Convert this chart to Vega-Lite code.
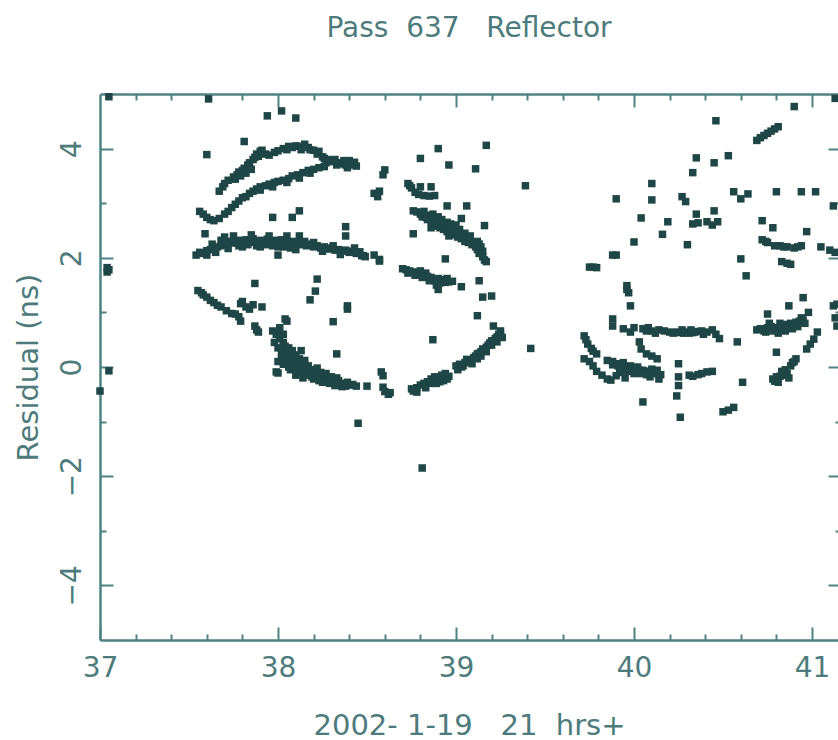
{
  "$schema": "https://vega.github.io/schema/vega-lite/v6.json",
  "autosize": {"type": "none"},
  "padding": {"left": 100, "top": 94, "right": 0, "bottom": 100},
  "width": 738,
  "height": 546,
  "background": "white",
  "title": {
    "text": "Pass\u00a0\u00a0637\u00a0\u00a0\u00a0Reflector",
    "font": "DejaVu Sans",
    "fontSize": 28,
    "fontWeight": "normal",
    "color": "#4d7b7b",
    "anchor": "middle",
    "baseline": "alphabetic",
    "offset": 28
  },
  "config": {
    "view": {"stroke": null},
    "axis": {
      "grid": false,
      "domainColor": "#4f8383",
      "domainWidth": 2.5,
      "tickColor": "#4f8383",
      "tickWidth": 2,
      "labelFont": "DejaVu Sans",
      "labelFontSize": 28,
      "labelColor": "#4d7b7b",
      "labelFlush": false,
      "labelOverlap": false,
      "titleFont": "DejaVu Sans",
      "titleFontSize": 29,
      "titleFontWeight": "normal",
      "titleColor": "#4d7b7b"
    }
  },
  "data": {"values": [
    {"t":37.05,"r":4.95},{"t":37.04,"r":1.82},{"t":37.04,"r":1.74},{"t":37.05,"r":1.78},{"t":37.05,"r":-0.07},{"t":37.0,"r":-0.44},{"t":37.61,"r":4.91},{"t":41.13,"r":4.92},
    {"t":37.94,"r":4.6},{"t":38.02,"r":4.69},{"t":38.1,"r":4.56},{"t":37.6,"r":3.89},{"t":37.81,"r":4.13},
    {"t":37.67,"r":3.22},{"t":37.69,"r":3.3},{"t":37.7,"r":3.36},{"t":37.72,"r":3.42},{"t":37.75,"r":3.48},{"t":37.77,"r":3.52},{"t":37.78,"r":3.57},{"t":37.8,"r":3.6},{"t":37.81,"r":3.64},{"t":37.83,"r":3.7},{"t":37.84,"r":3.74},{"t":37.86,"r":3.8},{"t":37.87,"r":3.84},{"t":37.88,"r":3.9},{"t":37.9,"r":3.95},{"t":37.91,"r":3.97},{"t":37.93,"r":3.9},{"t":37.95,"r":3.88},{"t":37.98,"r":3.93},{"t":38.0,"r":3.96},{"t":38.03,"r":4.0},{"t":38.06,"r":4.04},{"t":38.08,"r":4.02},{"t":38.1,"r":4.05},{"t":38.12,"r":4.04},{"t":38.15,"r":4.08},{"t":38.17,"r":4.02},{"t":38.18,"r":3.98},{"t":38.2,"r":3.97},{"t":38.23,"r":3.95},{"t":38.25,"r":3.85},{"t":38.26,"r":3.82},{"t":38.28,"r":3.8},{"t":38.29,"r":3.77},{"t":38.31,"r":3.76},{"t":38.32,"r":3.8},{"t":38.34,"r":3.74},{"t":38.35,"r":3.72},{"t":38.37,"r":3.78},{"t":38.38,"r":3.7},{"t":38.39,"r":3.65},{"t":38.41,"r":3.74},{"t":38.42,"r":3.7},{"t":38.44,"r":3.68},{"t":38.43,"r":3.75},{"t":37.82,"r":3.55},{"t":37.85,"r":3.62},{"t":37.79,"r":3.5},
    {"t":38.05,"r":3.98},{"t":38.13,"r":3.98},{"t":38.22,"r":3.9},{"t":38.27,"r":3.74},{"t":38.33,"r":3.7},{"t":38.4,"r":3.78},{"t":37.76,"r":3.44},{"t":37.89,"r":3.86},
    {"t":37.56,"r":2.85},{"t":37.58,"r":2.8},{"t":37.6,"r":2.74},{"t":37.62,"r":2.7},{"t":37.64,"r":2.68},{"t":37.67,"r":2.72},{"t":37.7,"r":2.8},{"t":37.72,"r":2.85},{"t":37.74,"r":2.92},{"t":37.76,"r":2.98},{"t":37.78,"r":3.04},{"t":37.8,"r":3.1},{"t":37.82,"r":3.12},{"t":37.84,"r":3.18},{"t":37.86,"r":3.22},{"t":37.88,"r":3.26},{"t":37.9,"r":3.3},{"t":37.93,"r":3.32},{"t":37.95,"r":3.35},{"t":37.98,"r":3.38},{"t":38.0,"r":3.4},{"t":38.03,"r":3.42},{"t":38.06,"r":3.45},{"t":38.08,"r":3.5},{"t":38.11,"r":3.52},{"t":38.14,"r":3.56},{"t":38.17,"r":3.6},{"t":38.2,"r":3.62},{"t":38.23,"r":3.65},{"t":38.26,"r":3.67},
    {"t":37.9,"r":3.24},{"t":37.97,"r":3.3},{"t":38.05,"r":3.38},{"t":38.12,"r":3.46},{"t":38.18,"r":3.55},
    {"t":37.54,"r":2.05},{"t":37.56,"r":2.1},{"t":37.58,"r":2.08},{"t":37.6,"r":2.13},{"t":37.62,"r":2.15},{"t":37.64,"r":2.18},{"t":37.66,"r":2.2},{"t":37.68,"r":2.22},{"t":37.7,"r":2.25},{"t":37.72,"r":2.27},{"t":37.74,"r":2.3},{"t":37.76,"r":2.27},{"t":37.78,"r":2.32},{"t":37.8,"r":2.3},{"t":37.82,"r":2.33},{"t":37.84,"r":2.28},{"t":37.86,"r":2.35},{"t":37.88,"r":2.3},{"t":37.9,"r":2.32},{"t":37.92,"r":2.27},{"t":37.94,"r":2.34},{"t":37.96,"r":2.3},{"t":37.98,"r":2.32},{"t":38.0,"r":2.28},{"t":38.02,"r":2.33},{"t":38.04,"r":2.3},{"t":38.06,"r":2.26},{"t":38.08,"r":2.3},{"t":38.1,"r":2.25},{"t":38.12,"r":2.28},{"t":38.14,"r":2.24},{"t":38.16,"r":2.22},{"t":38.18,"r":2.25},{"t":38.2,"r":2.2},{"t":38.22,"r":2.22},{"t":38.24,"r":2.18},{"t":38.26,"r":2.2},{"t":38.28,"r":2.16},{"t":38.3,"r":2.18},{"t":38.32,"r":2.14},{"t":38.34,"r":2.15},{"t":38.36,"r":2.12},{"t":38.38,"r":2.14},{"t":38.4,"r":2.1},{"t":38.42,"r":2.12},{"t":38.44,"r":2.08},{"t":38.47,"r":2.04},{"t":38.49,"r":2.02},
    {"t":37.7,"r":2.38},{"t":37.75,"r":2.4},{"t":37.85,"r":2.42},{"t":37.95,"r":2.4},{"t":38.05,"r":2.4},{"t":38.12,"r":2.4},{"t":37.8,"r":2.2},{"t":37.9,"r":2.2},{"t":38.0,"r":2.2},{"t":38.1,"r":2.15},{"t":37.59,"r":2.44},{"t":38.0,"r":2.05},
    {"t":37.6,"r":2.05},{"t":37.65,"r":2.1},{"t":37.72,"r":2.17},{"t":37.78,"r":2.22},{"t":37.83,"r":2.24},{"t":37.88,"r":2.22},{"t":37.93,"r":2.24},{"t":37.97,"r":2.22},{"t":38.03,"r":2.2},{"t":38.07,"r":2.18},{"t":38.15,"r":2.3},{"t":38.2,"r":2.28},{"t":38.25,"r":2.12},{"t":38.31,"r":2.22},{"t":38.35,"r":2.06},{"t":38.43,"r":2.18},{"t":37.68,"r":2.32},{"t":37.63,"r":2.25},
    {"t":37.97,"r":2.74},{"t":38.08,"r":2.74},{"t":38.12,"r":2.86},{"t":38.38,"r":2.57},{"t":38.38,"r":2.4},{"t":38.57,"r":1.97},{"t":38.54,"r":2.05},
    {"t":37.55,"r":1.4},{"t":37.57,"r":1.36},{"t":37.58,"r":1.32},{"t":37.6,"r":1.28},{"t":37.62,"r":1.22},{"t":37.64,"r":1.18},{"t":37.66,"r":1.13},{"t":37.68,"r":1.1},{"t":37.71,"r":1.03},{"t":37.76,"r":0.97},{"t":37.79,"r":0.84},{"t":37.79,"r":1.16},{"t":37.84,"r":1.06},{"t":37.82,"r":1.1},{"t":37.91,"r":1.1},{"t":37.78,"r":0.92},{"t":37.87,"r":0.75},{"t":37.89,"r":0.64},{"t":37.88,"r":0.68},{"t":37.87,"r":1.53},{"t":37.74,"r":0.98},{"t":37.8,"r":1.2},{"t":37.86,"r":1.14},
    {"t":37.97,"r":0.66},{"t":37.99,"r":0.6},{"t":38.01,"r":0.52},{"t":38.03,"r":0.45},{"t":38.04,"r":0.38},{"t":38.05,"r":0.3},{"t":38.06,"r":0.2},{"t":38.07,"r":0.12},{"t":38.04,"r":0.15},{"t":38.02,"r":0.25},{"t":38.0,"r":0.1},{"t":38.03,"r":0.05},{"t":38.06,"r":0.0},{"t":38.08,"r":0.05},{"t":38.1,"r":0.1},{"t":38.09,"r":-0.02},{"t":38.12,"r":-0.04},{"t":38.12,"r":0.15},{"t":38.14,"r":0.0},{"t":38.15,"r":0.05},{"t":38.16,"r":-0.08},{"t":38.18,"r":-0.05},{"t":38.18,"r":-0.12},{"t":38.2,"r":-0.1},{"t":38.22,"r":-0.13},{"t":38.22,"r":-0.02},{"t":38.24,"r":-0.18},{"t":38.26,"r":-0.15},{"t":38.27,"r":-0.24},{"t":38.28,"r":-0.2},{"t":38.3,"r":-0.27},{"t":38.31,"r":-0.22},{"t":38.33,"r":-0.3},{"t":38.34,"r":-0.25},{"t":38.35,"r":-0.32},{"t":38.37,"r":-0.3},{"t":38.38,"r":-0.35},{"t":38.4,"r":-0.33},{"t":38.44,"r":-0.35},{"t":38.5,"r":-0.35},{"t":38.1,"r":-0.15},{"t":38.14,"r":-0.2},{"t":38.2,"r":-0.22},{"t":37.99,"r":-0.09},{"t":38.0,"r":-0.11},{"t":38.05,"r":0.84},{"t":38.04,"r":0.88},{"t":38.22,"r":1.61},{"t":38.21,"r":1.39},{"t":38.18,"r":1.23},{"t":38.39,"r":1.12},{"t":38.31,"r":0.83},{"t":38.33,"r":0.24},{"t":38.39,"r":1.06},{"t":38.45,"r":-1.03},{"t":38.08,"r":0.3},{"t":38.1,"r":0.22},{"t":38.13,"r":0.3},
    {"t":37.98,"r":0.45},{"t":38.0,"r":0.35},{"t":38.02,"r":0.18},{"t":38.03,"r":0.4},{"t":38.05,"r":0.12},{"t":38.06,"r":0.35},{"t":38.07,"r":-0.05},{"t":38.09,"r":0.18},{"t":38.11,"r":0.05},{"t":38.13,"r":-0.1},{"t":38.15,"r":0.12},{"t":38.16,"r":-0.15},{"t":38.17,"r":0.02},{"t":38.19,"r":-0.18},{"t":38.21,"r":-0.06},{"t":38.23,"r":-0.25},{"t":38.24,"r":-0.1},{"t":38.25,"r":-0.28},{"t":38.27,"r":-0.12},{"t":38.29,"r":-0.3},{"t":38.3,"r":-0.18},{"t":38.32,"r":-0.34},{"t":38.33,"r":-0.2},{"t":38.36,"r":-0.36},{"t":38.39,"r":-0.28},{"t":38.42,"r":-0.32},{"t":38.03,"r":0.6},{"t":38.01,"r":0.72},
    {"t":38.58,"r":-0.09},{"t":38.59,"r":-0.16},{"t":38.59,"r":-0.37},{"t":38.6,"r":-0.45},{"t":38.62,"r":-0.5},{"t":38.63,"r":-0.47},{"t":38.81,"r":-1.85},
    {"t":38.76,"r":-0.44},{"t":38.75,"r":-0.4},{"t":38.78,"r":-0.38},{"t":38.8,"r":-0.33},{"t":38.82,"r":-0.3},{"t":38.84,"r":-0.27},{"t":38.86,"r":-0.22},{"t":38.88,"r":-0.18},{"t":38.9,"r":-0.2},{"t":38.92,"r":-0.15},{"t":38.94,"r":-0.12},{"t":38.93,"r":-0.25},{"t":38.96,"r":-0.17},{"t":38.89,"r":-0.3},{"t":38.87,"r":0.5},
    {"t":38.78,"r":-0.46},{"t":38.83,"r":-0.38},{"t":38.87,"r":-0.3},{"t":38.91,"r":-0.27},{"t":38.95,"r":-0.22},
    {"t":39.0,"r":0.02},{"t":39.02,"r":0.05},{"t":39.03,"r":0.0},{"t":39.05,"r":0.08},{"t":39.07,"r":0.12},{"t":39.08,"r":0.1},{"t":39.1,"r":0.17},{"t":39.11,"r":0.2},{"t":39.13,"r":0.25},{"t":39.14,"r":0.28},{"t":39.15,"r":0.33},{"t":39.17,"r":0.36},{"t":39.18,"r":0.4},{"t":39.19,"r":0.44},{"t":39.2,"r":0.48},{"t":39.22,"r":0.52},{"t":39.23,"r":0.55},{"t":39.24,"r":0.6},{"t":39.25,"r":0.58},{"t":39.26,"r":0.54},{"t":39.21,"r":0.75},{"t":39.12,"r":0.15},{"t":39.16,"r":0.3},{"t":39.42,"r":0.34},
    {"t":39.01,"r":-0.05},{"t":39.04,"r":0.02},{"t":39.06,"r":0.14},{"t":39.09,"r":0.06},{"t":39.12,"r":0.24},{"t":39.14,"r":0.2},{"t":39.17,"r":0.28},{"t":39.2,"r":0.4},{"t":39.23,"r":0.46},{"t":39.25,"r":0.66},
    {"t":39.12,"r":0.94},{"t":39.15,"r":1.28},{"t":39.2,"r":1.3},{"t":39.13,"r":1.58},{"t":39.03,"r":1.47},
    {"t":38.7,"r":1.8},{"t":38.72,"r":1.78},{"t":38.74,"r":1.76},{"t":38.76,"r":1.74},{"t":38.78,"r":1.72},{"t":38.79,"r":1.7},{"t":38.8,"r":1.76},{"t":38.82,"r":1.68},{"t":38.84,"r":1.66},{"t":38.86,"r":1.64},{"t":38.87,"r":1.6},{"t":38.88,"r":1.58},{"t":38.9,"r":1.62},{"t":38.92,"r":1.6},{"t":38.94,"r":1.55},{"t":38.96,"r":1.56},{"t":38.98,"r":1.57},{"t":38.89,"r":1.5},{"t":38.85,"r":1.58},{"t":38.9,"r":1.42},{"t":38.94,"r":1.98},
    {"t":38.73,"r":1.72},{"t":38.77,"r":1.68},{"t":38.81,"r":1.64},{"t":38.83,"r":1.72},{"t":38.91,"r":1.54},{"t":38.95,"r":1.62},
    {"t":38.76,"r":2.86},{"t":38.78,"r":2.84},{"t":38.8,"r":2.8},{"t":38.81,"r":2.75},{"t":38.83,"r":2.74},{"t":38.84,"r":2.7},{"t":38.85,"r":2.78},{"t":38.86,"r":2.68},{"t":38.87,"r":2.62},{"t":38.88,"r":2.7},{"t":38.89,"r":2.58},{"t":38.9,"r":2.64},{"t":38.91,"r":2.55},{"t":38.92,"r":2.6},{"t":38.93,"r":2.52},{"t":38.94,"r":2.58},{"t":38.95,"r":2.48},{"t":38.96,"r":2.54},{"t":38.97,"r":2.45},{"t":38.98,"r":2.5},{"t":38.99,"r":2.42},{"t":39.0,"r":2.46},{"t":39.01,"r":2.38},{"t":39.02,"r":2.43},{"t":39.03,"r":2.35},{"t":39.04,"r":2.4},{"t":39.05,"r":2.3},{"t":39.06,"r":2.36},{"t":39.07,"r":2.28},{"t":39.08,"r":2.32},{"t":39.09,"r":2.24},{"t":39.1,"r":2.28},{"t":39.11,"r":2.2},{"t":39.12,"r":2.15},{"t":39.13,"r":2.08},{"t":39.14,"r":2.2},{"t":39.15,"r":2.02},{"t":39.16,"r":1.96},{"t":39.17,"r":1.93},{"t":38.9,"r":2.75},{"t":38.95,"r":2.65},{"t":39.0,"r":2.6},
    {"t":38.82,"r":2.85},{"t":38.87,"r":2.8},{"t":38.92,"r":2.7},{"t":38.97,"r":2.62},{"t":39.02,"r":2.52},{"t":39.05,"r":2.45},{"t":39.08,"r":2.4},{"t":39.12,"r":2.3},{"t":39.13,"r":2.25},{"t":39.15,"r":2.12},{"t":38.86,"r":2.55},{"t":38.96,"r":2.4},
    {"t":38.95,"r":2.95},{"t":39.06,"r":2.95},{"t":39.03,"r":2.72},{"t":39.16,"r":2.59},{"t":38.76,"r":2.44},
    {"t":38.73,"r":3.36},{"t":38.75,"r":3.28},{"t":38.77,"r":3.2},{"t":38.79,"r":3.16},{"t":38.82,"r":3.14},{"t":38.85,"r":3.13},{"t":38.88,"r":3.14},{"t":38.8,"r":3.3},{"t":38.86,"r":3.3},{"t":38.74,"r":3.32},
    {"t":38.9,"r":4.0},{"t":39.17,"r":4.06},{"t":38.8,"r":3.82},{"t":38.96,"r":3.7},{"t":39.11,"r":3.63},{"t":39.39,"r":3.32},
    {"t":38.6,"r":3.61},{"t":38.59,"r":3.52},{"t":38.54,"r":3.18},{"t":38.57,"r":3.22},{"t":38.56,"r":3.12},{"t":38.46,"r":2.11},{"t":38.48,"r":2.04},{"t":38.57,"r":1.94},
    {"t":40.46,"r":4.51},{"t":40.9,"r":4.77},{"t":40.69,"r":4.15},{"t":40.71,"r":4.2},{"t":40.73,"r":4.24},{"t":40.75,"r":4.28},{"t":40.77,"r":4.32},{"t":40.79,"r":4.36},{"t":40.81,"r":4.4},
    {"t":40.35,"r":3.83},{"t":40.45,"r":3.74},{"t":40.53,"r":3.87},{"t":40.33,"r":3.56},{"t":40.1,"r":3.36},{"t":40.1,"r":3.06},{"t":39.9,"r":3.08},{"t":40.27,"r":3.12},{"t":40.29,"r":3.03},{"t":40.56,"r":3.21},{"t":40.6,"r":3.08},{"t":40.64,"r":3.17},{"t":40.8,"r":3.21},{"t":40.94,"r":3.21},{"t":41.02,"r":3.21},
    {"t":40.04,"r":2.73},{"t":40.19,"r":2.66},{"t":40.16,"r":2.43},{"t":40.0,"r":2.29},{"t":39.88,"r":2.05},{"t":39.9,"r":2.05},{"t":39.75,"r":1.83},{"t":39.77,"r":1.83},{"t":39.79,"r":1.82},
    {"t":40.35,"r":2.8},{"t":40.45,"r":2.86},{"t":40.33,"r":2.62},{"t":40.36,"r":2.64},{"t":40.41,"r":2.66},{"t":40.47,"r":2.66},{"t":40.44,"r":2.6},{"t":40.3,"r":2.24},
    {"t":40.72,"r":2.68},{"t":40.78,"r":2.55},{"t":40.97,"r":2.48},
    {"t":40.72,"r":2.33},{"t":40.74,"r":2.3},{"t":40.75,"r":2.28},{"t":40.79,"r":2.22},{"t":40.82,"r":2.22},{"t":40.84,"r":2.2},{"t":40.86,"r":2.2},{"t":40.9,"r":2.18},{"t":40.92,"r":2.2},{"t":40.94,"r":2.22},{"t":41.05,"r":2.2},{"t":41.1,"r":2.14},{"t":41.13,"r":2.1},
    {"t":40.83,"r":1.93},{"t":40.86,"r":1.9},{"t":40.88,"r":1.88},{"t":41.12,"r":2.95},{"t":40.6,"r":1.98},{"t":40.63,"r":1.67},
    {"t":39.96,"r":1.49},{"t":39.96,"r":1.42},{"t":39.97,"r":1.36},{"t":39.98,"r":1.12},{"t":39.88,"r":0.88},{"t":39.88,"r":0.75},
    {"t":39.94,"r":0.7},{"t":39.98,"r":0.64},{"t":40.0,"r":0.72},{"t":40.05,"r":0.7},{"t":40.07,"r":0.66},{"t":40.1,"r":0.66},{"t":40.14,"r":0.68},{"t":40.2,"r":0.64},{"t":40.22,"r":0.62},{"t":40.24,"r":0.64},{"t":40.26,"r":0.63},{"t":40.28,"r":0.62},{"t":40.3,"r":0.64},{"t":40.31,"r":0.62},{"t":40.33,"r":0.63},{"t":40.34,"r":0.64},{"t":40.36,"r":0.65},{"t":40.38,"r":0.66},{"t":40.41,"r":0.64},{"t":40.44,"r":0.68},{"t":40.46,"r":0.6},{"t":40.48,"r":0.52},{"t":40.58,"r":0.46},
    {"t":40.12,"r":0.62},{"t":40.17,"r":0.66},{"t":40.27,"r":0.68},{"t":40.32,"r":0.68},{"t":40.39,"r":0.6},{"t":40.08,"r":0.72},
    {"t":39.72,"r":0.57},{"t":39.73,"r":0.5},{"t":39.74,"r":0.42},{"t":39.76,"r":0.34},{"t":39.77,"r":0.29},{"t":39.79,"r":0.24},
    {"t":39.72,"r":0.15},{"t":39.75,"r":0.1},{"t":39.77,"r":0.02},{"t":39.79,"r":-0.08},{"t":39.82,"r":-0.15},{"t":39.85,"r":-0.22},{"t":39.87,"r":-0.24},
    {"t":39.85,"r":0.12},{"t":39.88,"r":0.1},{"t":39.9,"r":0.06},{"t":39.91,"r":0.02},{"t":39.93,"r":0.02},{"t":39.95,"r":0.0},{"t":39.96,"r":-0.02},{"t":39.98,"r":0.02},{"t":40.0,"r":-0.02},{"t":40.02,"r":-0.04},{"t":40.03,"r":-0.06},{"t":40.05,"r":-0.06},{"t":40.06,"r":-0.08},{"t":40.08,"r":-0.08},{"t":40.09,"r":-0.1},{"t":40.11,"r":-0.12},{"t":40.12,"r":-0.1},{"t":40.14,"r":-0.15},{"t":40.15,"r":-0.14},{"t":40.14,"r":-0.22},{"t":40.09,"r":-0.18},{"t":40.03,"r":-0.1},{"t":39.93,"r":-0.06},{"t":39.9,"r":-0.16},{"t":39.95,"r":-0.2},{"t":40.0,"r":-0.12},
    {"t":39.88,"r":0.04},{"t":39.92,"r":-0.1},{"t":39.97,"r":-0.08},{"t":40.01,"r":-0.08},{"t":40.04,"r":-0.12},{"t":40.07,"r":-0.14},{"t":40.1,"r":-0.04},{"t":40.13,"r":-0.06},{"t":39.94,"r":0.08},{"t":40.02,"r":0.0},
    {"t":40.03,"r":0.46},{"t":40.04,"r":0.33},{"t":40.07,"r":0.24},{"t":40.1,"r":0.2},{"t":40.13,"r":0.15},
    {"t":40.25,"r":0.06},{"t":40.25,"r":-0.18},{"t":40.25,"r":-0.34},{"t":40.31,"r":-0.15},{"t":40.33,"r":-0.17},{"t":40.36,"r":-0.14},{"t":40.38,"r":-0.12},{"t":40.41,"r":-0.09},{"t":40.44,"r":-0.08},
    {"t":40.05,"r":-0.64},{"t":40.24,"r":-0.53},{"t":40.26,"r":-0.92},{"t":40.5,"r":-0.82},{"t":40.53,"r":-0.79},{"t":40.56,"r":-0.74},{"t":40.61,"r":-0.28},
    {"t":40.69,"r":0.68},{"t":40.71,"r":0.7},{"t":40.73,"r":0.66},{"t":40.75,"r":0.72},{"t":40.77,"r":0.74},{"t":40.79,"r":0.7},{"t":40.8,"r":0.72},{"t":40.81,"r":0.62},{"t":40.83,"r":0.76},{"t":40.85,"r":0.66},{"t":40.86,"r":0.78},{"t":40.88,"r":0.8},{"t":40.89,"r":0.7},{"t":40.91,"r":0.82},{"t":40.93,"r":0.84},{"t":40.95,"r":0.86},{"t":40.96,"r":0.8},{"t":40.84,"r":0.68},
    {"t":40.74,"r":0.64},{"t":40.78,"r":0.66},{"t":40.82,"r":0.8},{"t":40.87,"r":0.72},{"t":40.9,"r":0.76},{"t":40.92,"r":0.74},{"t":40.94,"r":0.9},{"t":40.76,"r":0.8},
    {"t":40.75,"r":0.97},{"t":40.87,"r":1.12},{"t":40.95,"r":1.27},{"t":40.98,"r":1.0},
    {"t":40.8,"r":0.27},{"t":40.78,"r":-0.22},{"t":40.79,"r":-0.26},{"t":40.8,"r":-0.18},{"t":40.82,"r":-0.17},{"t":40.83,"r":-0.08},{"t":40.85,"r":-0.05},{"t":40.86,"r":-0.12},{"t":40.88,"r":0.02},{"t":40.89,"r":0.08},{"t":40.91,"r":0.15},{"t":40.87,"r":-0.2},{"t":40.84,"r":-0.15},{"t":40.81,"r":-0.28},{"t":40.9,"r":0.1},
    {"t":40.97,"r":0.33},{"t":40.99,"r":0.42},{"t":41.01,"r":0.51},{"t":41.03,"r":0.64},
    {"t":41.12,"r":1.12},{"t":41.14,"r":1.15},{"t":41.14,"r":0.75},{"t":41.13,"r":0.9}
  ]},
  "encoding": {
    "x": {"field": "t", "type": "quantitative", "scale": {"domain": [37, 41.146], "nice": false, "zero": false}},
    "y": {"field": "r", "type": "quantitative", "scale": {"domain": [-5, 5], "nice": false, "zero": false}}
  },
  "resolve": {"axis": {"x": "independent", "y": "independent"}},
  "layer": [
    {
      "mark": {"type": "point", "shape": "square", "filled": true, "size": 56, "color": "#1e4646", "opacity": 1},
      "encoding": {
        "x": {"field": "t", "type": "quantitative", "axis": {"orient": "bottom", "values": [37, 38, 39, 40, 41], "tickSize": -13, "labelPadding": 27, "labelBaseline": "top", "labelAlign": "center", "title": "2002-\u00a01-19\u00a0\u00a0\u00a021\u00a0\u00a0hrs+", "titleY": 94, "titleBaseline": "alphabetic"}},
        "y": {"field": "r", "type": "quantitative", "axis": {"orient": "left", "values": [-4, -2, 0, 2, 4], "tickSize": -13, "labelPadding": 27, "labelAngle": -90, "labelAlign": "center", "labelBaseline": "bottom", "title": "Residual (ns)", "titleX": -72, "titleBaseline": "middle", "titleAngle": -90}}
      }
    },
    {
      "mark": {"type": "point", "opacity": 0},
      "encoding": {
        "x": {"field": "t", "type": "quantitative", "axis": {"orient": "bottom", "values": [37.2, 37.4, 37.6, 37.8, 38.2, 38.4, 38.6, 38.8, 39.2, 39.4, 39.6, 39.8, 40.2, 40.4, 40.6, 40.8], "tickSize": -6, "labels": false, "domain": false, "title": null}},
        "y": {"field": "r", "type": "quantitative", "axis": {"orient": "left", "values": [-3, -1, 1, 3], "tickSize": -6, "labels": false, "domain": false, "title": null}}
      }
    },
    {
      "mark": {"type": "point", "opacity": 0},
      "encoding": {
        "x": {"field": "t", "type": "quantitative", "axis": {"orient": "top", "values": [38, 39, 40, 41], "tickSize": -13, "labels": false, "domain": true, "title": null}},
        "y": {"field": "r", "type": "quantitative", "axis": {"orient": "right", "values": [-4, -2, 0, 2, 4], "tickSize": -10, "labels": false, "domain": false, "title": null}}
      }
    },
    {
      "mark": {"type": "point", "opacity": 0},
      "encoding": {
        "x": {"field": "t", "type": "quantitative", "axis": {"orient": "top", "values": [37.2, 37.4, 37.6, 37.8, 38.2, 38.4, 38.6, 38.8, 39.2, 39.4, 39.6, 39.8, 40.2, 40.4, 40.6, 40.8], "tickSize": -6, "labels": false, "domain": false, "title": null}},
        "y": {"field": "r", "type": "quantitative", "axis": {"orient": "right", "values": [-3, -1, 1, 3], "tickSize": -3, "labels": false, "domain": false, "title": null}}
      }
    }
  ]
}
